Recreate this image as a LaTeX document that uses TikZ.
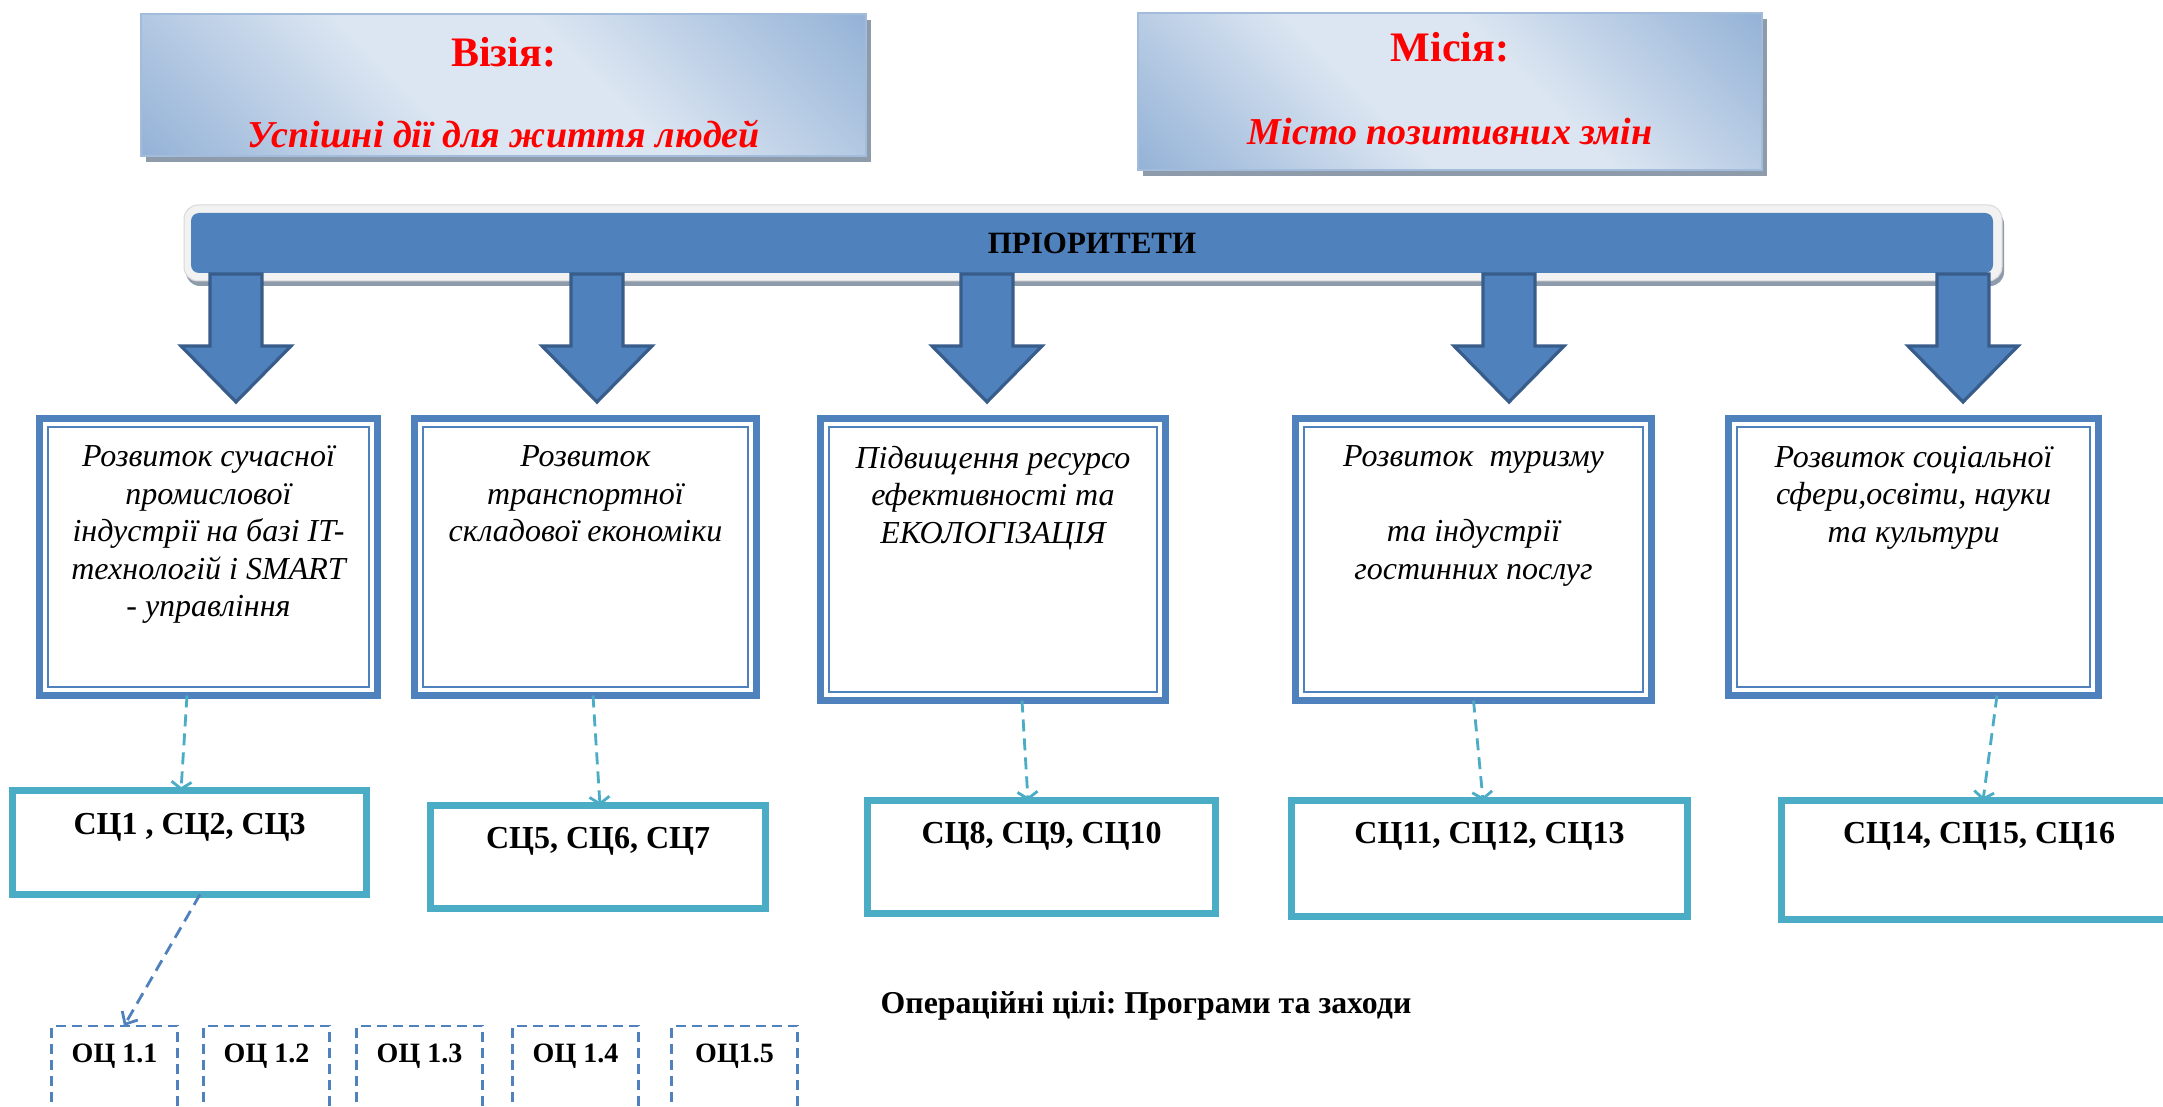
\documentclass[tikz,border=0pt]{standalone}
\usepackage{fontspec}
\setmainfont{Liberation Serif}
\usetikzlibrary{arrows.meta,positioning,shadows}
\frenchspacing

\definecolor{prioblue}{HTML}{4F81BD}
\definecolor{arrowedge}{HTML}{385D8A}
\definecolor{scblue}{HTML}{4BACC6}
\definecolor{vlight}{HTML}{DCE6F2}
\definecolor{vdark}{HTML}{95B3D7}
\definecolor{visedge}{HTML}{A3BCDC}
\definecolor{shadowgray}{HTML}{8E9BAB}
\definecolor{bargray}{HTML}{F2F2F2}
\pgfdeclareverticalshading{visshade}{100bp}{color(0bp)=(vdark); color(15bp)=(vdark); color(42bp)=(vlight); color(58bp)=(vlight); color(85bp)=(vdark); color(100bp)=(vdark)}

\begin{document}
\begin{tikzpicture}[
    x=0.5pt, y=-0.5pt,
    visbox/.style = {draw=visedge, line width=1pt, shading=visshade, shading angle=-45, inner sep=0pt, outer sep=0pt,
      drop shadow={shadow xshift=2.5pt, shadow yshift=-3pt, fill=shadowgray, opacity=1}},
    vistitle/.style = {text=red, font=\bfseries\fontsize{21}{25}\selectfont},
    vissub/.style = {text=red, font=\bfseries\itshape\fontsize{19}{23}\selectfont},
    prio/.style = {draw=prioblue, line width=3.5pt, inner sep=0pt, outer sep=0pt,
      path picture={\draw[prioblue, line width=1.3pt] ([shift={(4.25pt,-4.25pt)}]path picture bounding box.north west) rectangle ([shift={(-4.25pt,4.25pt)}]path picture bounding box.south east);}},
    priotext/.style = {align=center, inner sep=0pt, font=\itshape\fontsize{16}{18.75}\selectfont},
    sc/.style = {draw=scblue, line width=3.5pt, inner sep=0pt, outer sep=0pt},
    sctext/.style = {inner sep=0pt, font=\bfseries\fontsize{16}{19}\selectfont},
    oc/.style = {draw=prioblue, line width=1.3pt, dash pattern=on 5pt off 3pt, inner sep=0pt, outer sep=0pt, minimum width=63pt, minimum height=57pt},
    octext/.style = {inner sep=0pt, font=\bfseries\fontsize{14}{17}\selectfont},
    sclink/.style = {draw=scblue, line width=1.4pt, dash pattern=on 6pt off 3.5pt, -{Straight Barb[length=3.5pt, width=10pt]}},
    oclink/.style = {draw=prioblue, line width=1.4pt, dash pattern=on 6pt off 3.5pt, -{Straight Barb[length=5pt, width=9pt]}},
    blockarrow/.style = {fill=prioblue, draw=arrowedge, line width=1.6pt}
  ]
  \path[use as bounding box, fill=white] (0,0) rectangle (2163,1107);

  % vision and mission
  \node[visbox, minimum width=362.5pt, minimum height=71pt] (vis) at (503.5,85) {};
  \node[vistitle] (vist) at (503.5,52) {Візія:};
  \node[vissub] (viss) at (503.5,134) {Успішні дії для життя людей};
  \node[visbox, minimum width=312pt, minimum height=78.5pt] (mis) at (1450,91.5) {};
  \node[vistitle] (mist) at (1450,47) {Місія:};
  \node[vissub] (miss) at (1450,132) {Місто позитивних змін};

  % priorities
  \node[fill=bargray, draw=black!15, line width=0.5pt, rounded corners=7pt, minimum width=909pt, minimum height=38pt,
    drop shadow={shadow xshift=1pt, shadow yshift=-2.5pt, fill=shadowgray, opacity=1}] (barout) at (1093,243) {};
  \node[fill=prioblue, rounded corners=4pt, minimum width=901pt, minimum height=30pt,
    font=\bfseries\fontsize{15.5}{18}\selectfont] (bar) at (1092,243) {ПРІОРИТЕТИ};
  \foreach \cx in {236,597,987,1509,1963}
    \draw[blockarrow] ({\cx-26},274) -- ({\cx+26},274) -- ({\cx+26},346) -- ({\cx+55},346)
      -- (\cx,402) -- ({\cx-55},346) -- ({\cx-26},346) -- cycle;

  \node[prio, minimum width=169pt, minimum height=138.5pt] (p1) at (208.5,557) {};
  \node[prio, minimum width=171pt, minimum height=138.5pt] (p2) at (585.5,557) {};
  \node[prio, minimum width=172.5pt, minimum height=141pt] (p3) at (993,559.5) {};
  \node[prio, minimum width=178pt, minimum height=141pt] (p4) at (1473.5,559.5) {};
  \node[prio, minimum width=185pt, minimum height=138.5pt] (p5) at (1913.5,557) {};
  \node[priotext, below=13.5pt of p1.north] (p1t) {Розвиток сучасної\\промислової\\індустрії на базі IT-\\технологій і SMART\\- управління};
  \node[priotext, below=13.5pt of p2.north] (p2t) {Розвиток\\транспортної\\складової економіки};
  \node[priotext, below=13.5pt of p3.north] (p3t) {Підвищення ресурсо\\ефективності та\\ЕКОЛОГІЗАЦІЯ};
  \node[priotext, below=13.5pt of p4.north] (p4t) {Розвиток\ \ туризму\\[18.75pt]та індустрії\\гостинних послуг};
  \node[priotext, below=13.5pt of p5.north] (p5t) {Розвиток соціальної\\сфери,освіти, науки\\та культури};

  % strategic goals
  \node[sc, minimum width=177pt, minimum height=52pt] (s1) at (189.5,842.5) {};
  \node[sc, minimum width=167.5pt, minimum height=51.5pt] (s2) at (598,857) {};
  \node[sc, minimum width=174pt, minimum height=56.5pt] (s3) at (1041.5,857) {};
  \node[sc, minimum width=198pt, minimum height=58pt] (s4) at (1489.5,858.5) {};
  \node[sc, minimum width=197.5pt, minimum height=59.5pt] (s5) at (1979,860) {};
  \node[sctext, below=11pt of s1.north] (s1t) {СЦ1 , СЦ2, СЦ3};
  \node[sctext, below=10.5pt of s2.north] (s2t) {СЦ5, СЦ6, СЦ7};
  \node[sctext, below=10.5pt of s3.north] (s3t) {СЦ8, СЦ9, СЦ10};
  \node[sctext, below=10.5pt of s4.north] (s4t) {СЦ11, СЦ12, СЦ13};
  \node[sctext, below=10.5pt of s5.north] (s5t) {СЦ14, СЦ15, СЦ16};

  \draw[sclink] ([xshift=-10.75pt]p1.south) -- ([xshift=-4.25pt]s1.north);
  \draw[sclink] ([xshift=3.75pt]p2.south) -- ([xshift=1pt]s2.north);
  \draw[sclink] ([xshift=14.5pt]p3.south) -- ([xshift=-6.75pt]s3.north);
  \draw[sclink] (p4.south) -- ([xshift=-3.25pt]s4.north);
  \draw[sclink] ([xshift=41.75pt]p5.south) -- ([xshift=2pt]s5.north);

  % operational goals
  \node[font=\bfseries\fontsize{15.9}{19}\selectfont] (optitle) at (1146,1006) {Операційні цілі: Програми та заходи};
  \node[oc] (o1) at (114.5,1083) {};
  \node[oc] (o2) at (266.5,1083) {};
  \node[oc] (o3) at (419.5,1083) {};
  \node[oc] (o4) at (575.5,1083) {};
  \node[oc] (o5) at (734.5,1083) {};
  \node[octext, below=9pt of o1.north] (o1t) {ОЦ 1.1};
  \node[octext, below=9pt of o2.north] (o2t) {ОЦ 1.2};
  \node[octext, below=9pt of o3.north] (o3t) {ОЦ 1.3};
  \node[octext, below=9pt of o4.north] (o4t) {ОЦ 1.4};
  \node[octext, below=9pt of o5.north] (o5t) {ОЦ1.5};
  \draw[oclink] ([xshift=5.25pt]s1.south) -- ([xshift=4.75pt]o1.north);
\end{tikzpicture}
\end{document}
